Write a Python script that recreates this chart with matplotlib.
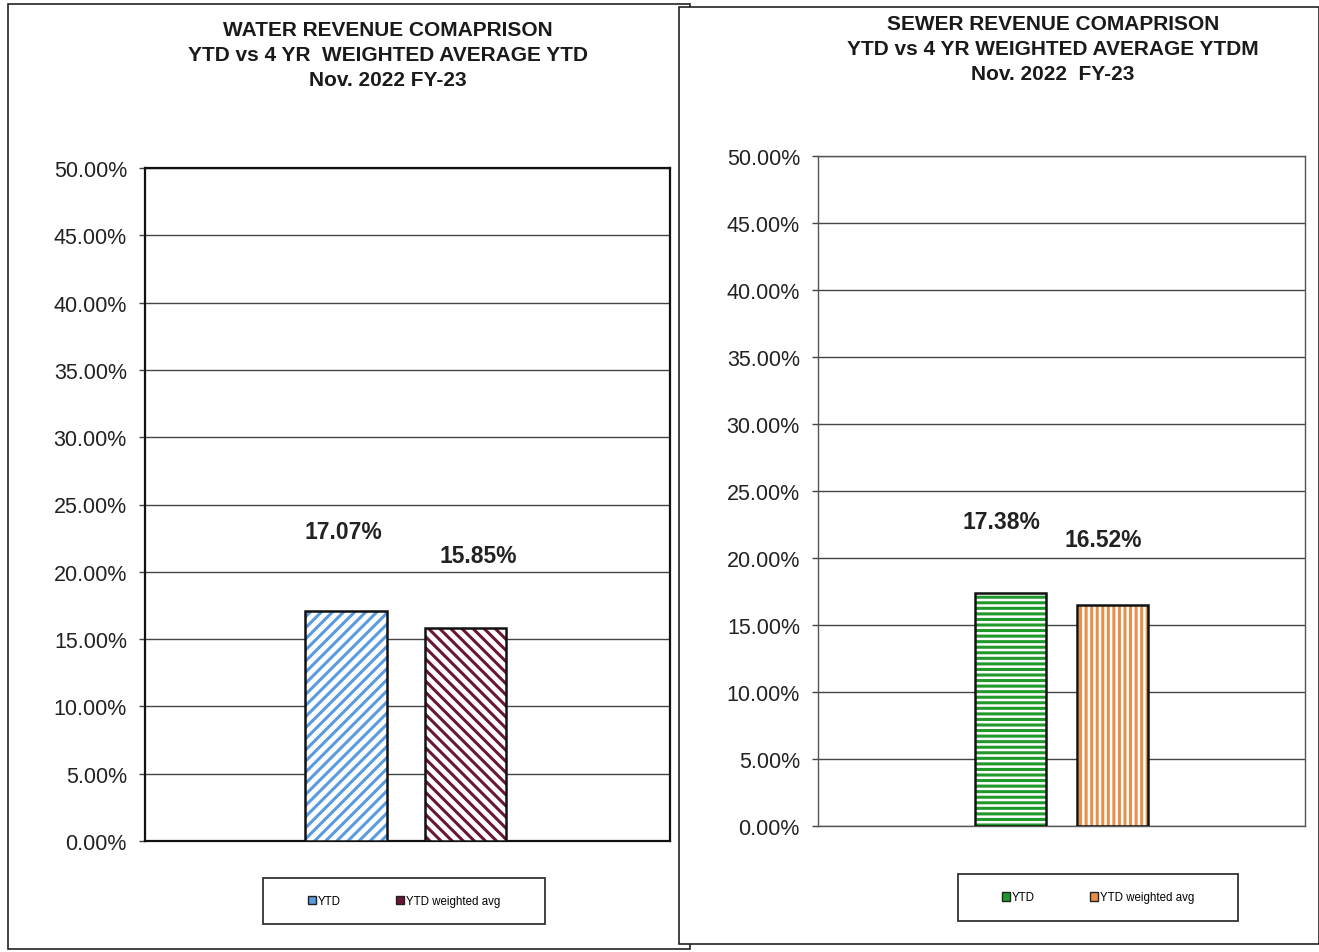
import matplotlib.pyplot as plt
from matplotlib.patches import Rectangle, Patch
from matplotlib.ticker import PercentFormatter
import numpy as np

plt.rcParams['font.family'] = ['Liberation Sans', 'DejaVu Sans']
plt.rcParams['hatch.linewidth'] = 2.2

# chart data
series = ['YTD', 'YTD weighted avg']
water_values = [17.07, 15.85]
sewer_values = [17.38, 16.52]
water_title = ['WATER REVENUE COMAPRISON',
               'YTD vs 4 YR  WEIGHTED AVERAGE YTD',
               'Nov. 2022 FY-23']
sewer_title = ['SEWER REVENUE COMAPRISON',
               'YTD vs 4 YR WEIGHTED AVERAGE YTDM',
               'Nov. 2022  FY-23']
y_ticks = np.arange(0, 55, 5)

W, H = 1319, 953
fig = plt.figure(figsize=(W / 100, H / 100), dpi=100)


def px_rect(x0, y0, x1, y1):
    # pixel box (top-left origin) -> figure fraction rect
    return [x0 / W, 1 - y1 / H, (x1 - x0) / W, (y1 - y0) / H]


def panel_frame(x0, y0, x1, y1, z):
    r = px_rect(x0, y0, x1, y1)
    fig.patches.append(Rectangle((r[0], r[1]), r[2], r[3], transform=fig.transFigure,
                                 facecolor='white', edgecolor='#222222', lw=1.2, zorder=z))


def draw_chart(rect, values, colors, hatches, width, offsets, label_off, spine_lw, spine_col):
    ax = fig.add_axes(rect, zorder=5)
    ax.set_xlim(-1, 1)
    ax.set_ylim(0, 50)
    for v, c, h, dx in zip(values, colors, hatches, offsets):
        ax.bar(dx, v, width=width, facecolor='white', edgecolor=c, hatch=h, lw=0, zorder=3)
        ax.bar(dx, v, width=width, fill=False, edgecolor='#111111', lw=1.8, zorder=4)
    for v, dx, (ox, oy) in zip(values, offsets, label_off):
        ax.annotate(f'{v:.2f}%', (dx, v), xytext=(ox, oy), textcoords='offset pixels',
                    ha='center', va='center', fontsize=16.5, fontweight='bold', color='#222222')
    ax.set_yticks(y_ticks)
    ax.yaxis.set_major_formatter(PercentFormatter(decimals=2))
    ax.set_xticks([])
    ax.grid(axis='y', color='#444444', lw=1.0, zorder=0)
    ax.tick_params(axis='y', length=4, width=1, color='#444444', pad=9, labelsize=15.5,
                   labelcolor='#222222')
    for s in ax.spines.values():
        s.set_linewidth(spine_lw)
        s.set_color(spine_col)
    return ax


def draw_legend(box, colors):
    r = px_rect(*box)
    fig.patches.append(Rectangle((r[0], r[1]), r[2], r[3], transform=fig.transFigure,
                                 facecolor='white', edgecolor='#333333', lw=1.3, zorder=6))
    handles = [Patch(facecolor=c, edgecolor='#222222', lw=1.0) for c in colors]
    fig.legend(handles, series, loc='center', ncol=2, frameon=False,
               bbox_to_anchor=(r[0] + r[2] / 2, r[1] + r[3] / 2),
               fontsize=8.3, handlelength=0.7, handleheight=0.7, handletextpad=0.15,
               columnspacing=4.8).set_zorder(7)


# page frames
panel_frame(8, 5, 690, 950, 0)
panel_frame(679, 8, 1319, 945, 1)

# water chart
water_colors = ['#5a9ae0', '#6a1638']
draw_chart(px_rect(145, 169, 670, 842), water_values, water_colors, ['///', '\\\\\\'],
           0.31, [-0.234, 0.222], [(-3, 80), (12, 72)], 1.6, '#111111')
for i, line in enumerate(water_title):
    fig.text(388 / W, 1 - (31 + 24.5 * i) / H, line, ha='center', va='center',
             fontsize=15, fontweight='bold', color='#1a1a1a', zorder=8)
draw_legend((263, 879, 545, 925), water_colors)

# sewer chart
sewer_colors = ['#1f9a2a', '#e8904a']
draw_chart(px_rect(818, 157, 1305, 827), sewer_values, sewer_colors, ['---', '|||'],
           0.29, [-0.21, 0.21], [(-9, 72), (-9, 65)], 1.0, '#555555')
for i, line in enumerate(sewer_title):
    fig.text(1053 / W, 1 - (25 + 24.5 * i) / H, line, ha='center', va='center',
             fontsize=15, fontweight='bold', color='#1a1a1a', zorder=8)
draw_legend((958, 875, 1238, 922), sewer_colors)

fig.savefig('out.png', dpi=100, facecolor='white')
